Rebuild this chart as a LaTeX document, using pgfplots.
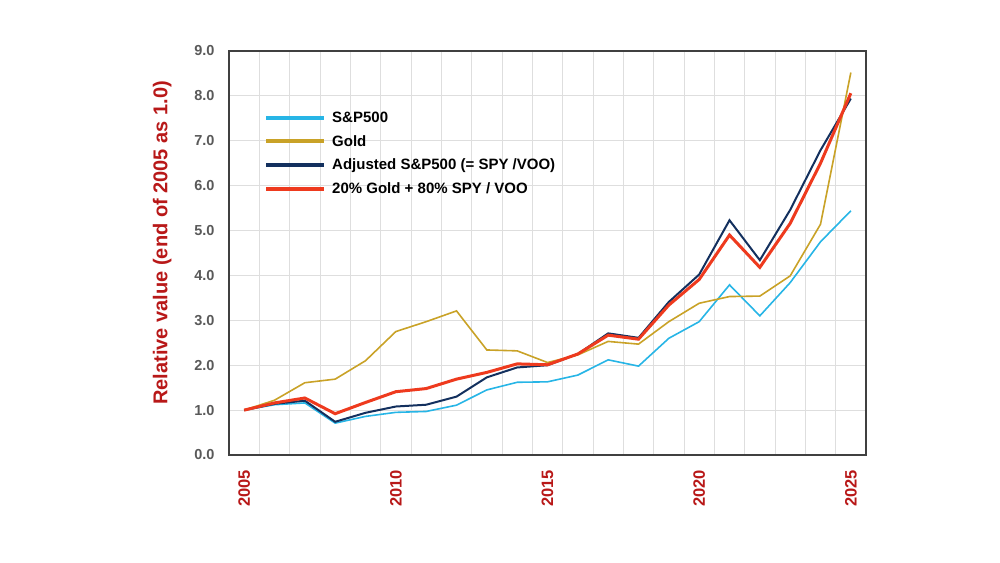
\documentclass[border=0pt]{standalone}
\usepackage{pgfplots}
\pgfplotsset{compat=1.18}
\usepackage{fontspec}
\setmainfont{Liberation Sans}
\definecolor{spblue}{HTML}{27B5E6}
\definecolor{goldc}{HTML}{C9A227}
\definecolor{navy}{HTML}{13305E}
\definecolor{mixred}{HTML}{EE3A1E}
\definecolor{darkred}{HTML}{B81818}
\definecolor{tickgray}{HTML}{595959}
\definecolor{gridc}{HTML}{DEDEDE}
\begin{document}
\begin{tikzpicture}[x=1pt,y=1pt]
\path[use as bounding box] (0,0) rectangle (1000,562);
\begin{axis}[
  at={(229pt,107pt)}, anchor=south west,
  scale only axis, width=637pt, height=404pt,
  xmin=2004.5, xmax=2025.5, ymin=0, ymax=9,
  xtick={2005,2010,2015,2020,2025},
  minor xtick={2004.5,2005.5,...,2025.5},
  ytick={0,1,...,9},
  xmajorgrids=false, xminorgrids=true, ymajorgrids=true,
  grid style={gridc, line width=0.8pt},
  minor grid style={gridc, line width=0.8pt},
  major tick length=0pt, minor tick length=0pt,
  axis line style={draw=black!75, line width=1.4pt},
  /pgf/number format/assume math mode=true,
  x tick label style={/pgf/number format/1000 sep={}, rotate=90, anchor=east,
    inner xsep=15pt, outer sep=0pt,
    font=\fontsize{16.5}{18}\selectfont\bfseries, text=darkred},
  y tick label style={/pgf/number format/fixed, /pgf/number format/fixed zerofill,
    /pgf/number format/precision=1, font=\fontsize{14.5}{16}\selectfont\bfseries,
    text=tickgray, xshift=-11pt},
  ylabel={Relative value (end of 2005 as 1.0)},
  ylabel style={at={(axis description cs:-0.105,0.525)}, anchor=center, rotate=0,
    font=\fontsize{20}{22}\selectfont\bfseries, text=darkred},
  legend style={draw=none, fill=none, at={(axis description cs:0.055,0.855)},
    anchor=north west, font=\fontsize{15}{17}\selectfont\bfseries,
    row sep=7.5pt, inner sep=0pt, nodes={inner xsep=6pt}},
  legend cell align=left,
  legend image code/.code={\draw[#1, line width=4pt] (0pt,0pt) -- (58pt,0pt);},
  clip=false,
]
\addplot[spblue, line width=1.6pt] coordinates {
(2005,1.00) (2006,1.12) (2007,1.16) (2008,0.71) (2009,0.86) (2010,0.95)
(2011,0.97) (2012,1.11) (2013,1.45) (2014,1.62) (2015,1.63) (2016,1.78)
(2017,2.12) (2018,1.98) (2019,2.60) (2020,2.97) (2021,3.79) (2022,3.10)
(2023,3.84) (2024,4.75) (2025,5.44)};
\addplot[goldc, line width=1.6pt] coordinates {
(2005,1.00) (2006,1.22) (2007,1.61) (2008,1.69) (2009,2.10) (2010,2.75)
(2011,2.97) (2012,3.21) (2013,2.34) (2014,2.32) (2015,2.06) (2016,2.23)
(2017,2.53) (2018,2.47) (2019,2.97) (2020,3.38) (2021,3.53) (2022,3.54)
(2023,3.99) (2024,5.14) (2025,8.52)};
\addplot[navy, line width=2pt] coordinates {
(2005,1.00) (2006,1.14) (2007,1.21) (2008,0.74) (2009,0.94) (2010,1.08)
(2011,1.12) (2012,1.30) (2013,1.73) (2014,1.95) (2015,2.00) (2016,2.25)
(2017,2.71) (2018,2.61) (2019,3.41) (2020,4.02) (2021,5.23) (2022,4.34)
(2023,5.46) (2024,6.79) (2025,7.94)};
\addplot[mixred, line width=3pt] coordinates {
(2005,1.00) (2006,1.16) (2007,1.27) (2008,0.92) (2009,1.17) (2010,1.41)
(2011,1.48) (2012,1.69) (2013,1.84) (2014,2.03) (2015,2.01) (2016,2.25)
(2017,2.67) (2018,2.58) (2019,3.34) (2020,3.91) (2021,4.90) (2022,4.18)
(2023,5.16) (2024,6.50) (2025,8.06)};
\legend{S\&P500, Gold, Adjusted S\&P500 (= SPY /VOO), 20\% Gold + 80\% SPY / VOO}
\end{axis}
\end{tikzpicture}
\end{document}
